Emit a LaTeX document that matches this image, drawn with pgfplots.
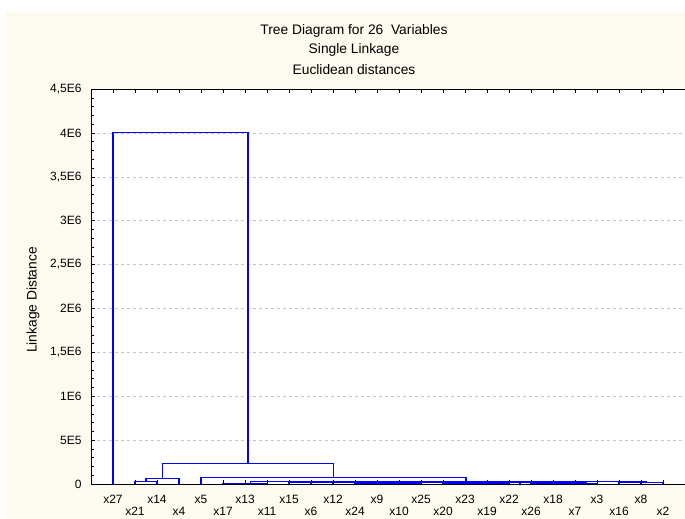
\documentclass[border=0pt]{standalone}
\usepackage{pgfplots}
\pgfplotsset{compat=1.18}
\usepackage{fontspec}
\setmainfont{Liberation Sans}
\definecolor{cream}{RGB}{253,250,240}
\definecolor{dblue}{RGB}{0,0,255}
\newcommand\ff{\fontsize{12}{14}\selectfont}
\newcommand\tf{\fontsize{13.8}{16}\selectfont}
\pgfplotsset{dl/.style={draw=dblue, color=dblue, line width=1.1pt, mark=none, line cap=rect}}
\begin{document}
\begin{tikzpicture}[font=\ff]
\useasboundingbox (0pt,0pt) rectangle (685pt,519pt);
\fill[white] (0pt,0pt) rectangle (685pt,519pt);
\fill[cream] (6pt,0pt) rectangle (685pt,507pt);
\node[font=\tf] at (354pt,488pt) {Tree Diagram for 26\ \ Variables};
\node[font=\tf] at (354pt,469pt) {Single Linkage};
\node[font=\tf] at (354pt,449pt) {Euclidean distances};
\node[rotate=90, font=\tf] at (33pt,219pt) {Linkage Distance};
\begin{axis}[
  at={(91pt,35pt)}, anchor=south west, scale only axis,
  width=596pt, height=395pt,
  xmin=0, xmax=27.0909, ymin=0, ymax=4.5,
  axis background/.style={fill=white},
  axis line style={black, line width=0.6pt},
  tick align=inside, major tick length=4pt, minor tick length=2.5pt,
  tick style={black, line width=0.5pt},
  ytick pos=left,
  ytick={0,0.5,1,1.5,2,2.5,3,3.5,4,4.5},
  yticklabels={0,5E5,1E6,{1,5E6},2E6,{2,5E6},3E6,{3,5E6},4E6,{4,5E6}},
  yticklabel style={xshift=-6pt},
  minor y tick num=4,
  ymajorgrids, major grid style={dashed, gray!45, line width=0.5pt},
  xtick={1,3,5,7,9,11,13,15,17,19,21,23,25},
  xticklabels={x27,x14,x5,x13,x15,x12,x9,x25,x23,x22,x18,x3,x8},
  xticklabel style={yshift=-8pt},
  extra x ticks={2,4,6,8,10,12,14,16,18,20,22,24,26},
  extra x tick labels={x21,x4,x17,x11,x6,x24,x10,x20,x19,x26,x7,x16,x2},
  extra x tick style={grid=none, xticklabel style={yshift=-12pt}},
  tick label style={font=\ff},
]
% D, B
\addplot[dl] coordinates {(2,0)(2,0.028)(3,0.028)(3,0)};
\addplot[dl] coordinates {(2.5,0.028)(2.5,0.065)(4,0.065)(4,0)};
% small cluster
\addplot[dl] coordinates {(6,0)(6,0.004)(7,0.004)(7,0)};
\addplot[dl] coordinates {(6.5,0.004)(6.5,0.007)(8,0.007)(8,0)};
\addplot[dl] coordinates {(12,0)(12,0.006)(13,0.006)(13,0)};
\addplot[dl] coordinates {(14,0)(14,0.005)(15,0.005)(15,0)};
\addplot[dl] coordinates {(12.5,0.006)(12.5,0.009)(14.5,0.009)(14.5,0.005)};
\addplot[dl] coordinates {(16,0)(16,0.007)(17,0.007)(17,0)};
\addplot[dl] coordinates {(18,0)(18,0.005)(19,0.005)(19,0)};
\addplot[dl] coordinates {(16.5,0.007)(16.5,0.010)(18.5,0.010)(18.5,0.005)};
\addplot[dl] coordinates {(20,0)(20,0.006)(21,0.006)(21,0)};
\addplot[dl] coordinates {(22,0)(22,0.008)(23,0.008)(23,0)};
\addplot[dl] coordinates {(20.5,0.006)(20.5,0.011)(22.5,0.011)(22.5,0.008)};
\addplot[dl] coordinates {(17.5,0.010)(17.5,0.014)(21.5,0.014)(21.5,0.011)};
\addplot[dl] coordinates {(13.5,0.009)(13.5,0.017)(19.5,0.017)(19.5,0.014)};
\addplot[dl] coordinates {(11,0)(11,0.019)(16.5,0.019)(16.5,0.017)};
\addplot[dl] coordinates {(10,0)(10,0.021)(13.75,0.021)(13.75,0.019)};
\addplot[dl] coordinates {(9,0)(9,0.023)(11.875,0.023)(11.875,0.021)};
\addplot[dl] coordinates {(7.25,0.007)(7.25,0.025)(10.4375,0.025)(10.4375,0.023)};
\addplot[dl] coordinates {(24,0)(24,0.012)(25,0.012)(25,0)};
\addplot[dl] coordinates {(24.5,0.012)(24.5,0.020)(26,0.020)(26,0)};
\addplot[dl] coordinates {(8.84375,0.025)(8.84375,0.032)(25.25,0.032)(25.25,0.020)};
\addplot[dl] coordinates {(5,0)(5,0.076)(17.046875,0.076)(17.046875,0.032)};
\addplot[dl] coordinates {(3.25,0.065)(3.25,0.236)(11.0234,0.236)(11.0234,0.076)};
\addplot[dl] coordinates {(1,0)(1,4)(7.1367,4)(7.1367,0.236)};
\end{axis}
\end{tikzpicture}
\end{document}
